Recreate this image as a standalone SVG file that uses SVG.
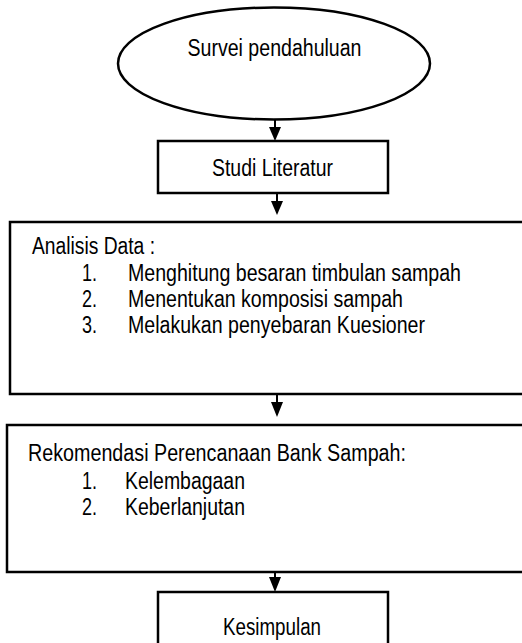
<svg xmlns="http://www.w3.org/2000/svg" width="522" height="643" viewBox="0 0 522 643">
<style>
.shape{fill:#fff;stroke:#000;stroke-width:2.5}
text{font-family:"Liberation Sans",Arial,sans-serif;font-size:23px;fill:#000}
.c{text-anchor:middle}
.conn line{stroke:#000;stroke-width:2}
.conn polygon{fill:#000}
</style>
<rect width="522" height="643" fill="#fff"/>
<g id="survei">
<ellipse class="shape" cx="274" cy="63.5" rx="156" ry="56"/>
<text class="c" x="274.5" y="56" textLength="174" lengthAdjust="spacingAndGlyphs">Survei pendahuluan</text>
</g>
<g id="studi">
<rect class="shape" x="158" y="141" width="230" height="52"/>
<text class="c" x="272.5" y="176" textLength="121" lengthAdjust="spacingAndGlyphs">Studi Literatur</text>
</g>
<g id="analisis">
<rect class="shape" x="10" y="222" width="540" height="172"/>
<text x="32" y="254" textLength="123" lengthAdjust="spacingAndGlyphs">Analisis Data :</text>
<text x="82" y="281" textLength="15" lengthAdjust="spacingAndGlyphs">1.</text>
<text x="128" y="281" textLength="333" lengthAdjust="spacingAndGlyphs">Menghitung besaran timbulan sampah</text>
<text x="82" y="307" textLength="15" lengthAdjust="spacingAndGlyphs">2.</text>
<text x="128" y="307" textLength="275" lengthAdjust="spacingAndGlyphs">Menentukan komposisi sampah</text>
<text x="82" y="333" textLength="15" lengthAdjust="spacingAndGlyphs">3.</text>
<text x="128" y="333" textLength="297" lengthAdjust="spacingAndGlyphs">Melakukan penyebaran Kuesioner</text>
</g>
<g id="rekomendasi">
<rect class="shape" x="7" y="425" width="545" height="147"/>
<text x="28" y="461" textLength="378" lengthAdjust="spacingAndGlyphs">Rekomendasi Perencanaan Bank Sampah:</text>
<text x="82" y="489" textLength="15" lengthAdjust="spacingAndGlyphs">1.</text>
<text x="125" y="489" textLength="120" lengthAdjust="spacingAndGlyphs">Kelembagaan</text>
<text x="82" y="515" textLength="15" lengthAdjust="spacingAndGlyphs">2.</text>
<text x="125" y="515" textLength="120" lengthAdjust="spacingAndGlyphs">Keberlanjutan</text>
</g>
<g id="kesimpulan">
<rect class="shape" x="158" y="592" width="230" height="70"/>
<text class="c" x="272" y="635" textLength="98" lengthAdjust="spacingAndGlyphs">Kesimpulan</text>
</g>
<g id="connectors" class="conn">
<line x1="275" y1="119" x2="275" y2="128"/>
<polygon points="269,127 281,127 275,141"/>
<line x1="277" y1="193" x2="277" y2="202"/>
<polygon points="271,201 283,201 277,215"/>
<line x1="277" y1="394" x2="277" y2="403"/>
<polygon points="271,402 283,402 277,417"/>
<line x1="275" y1="572" x2="275" y2="578"/>
<polygon points="269,577 281,577 275,592"/>
</g>
</svg>
